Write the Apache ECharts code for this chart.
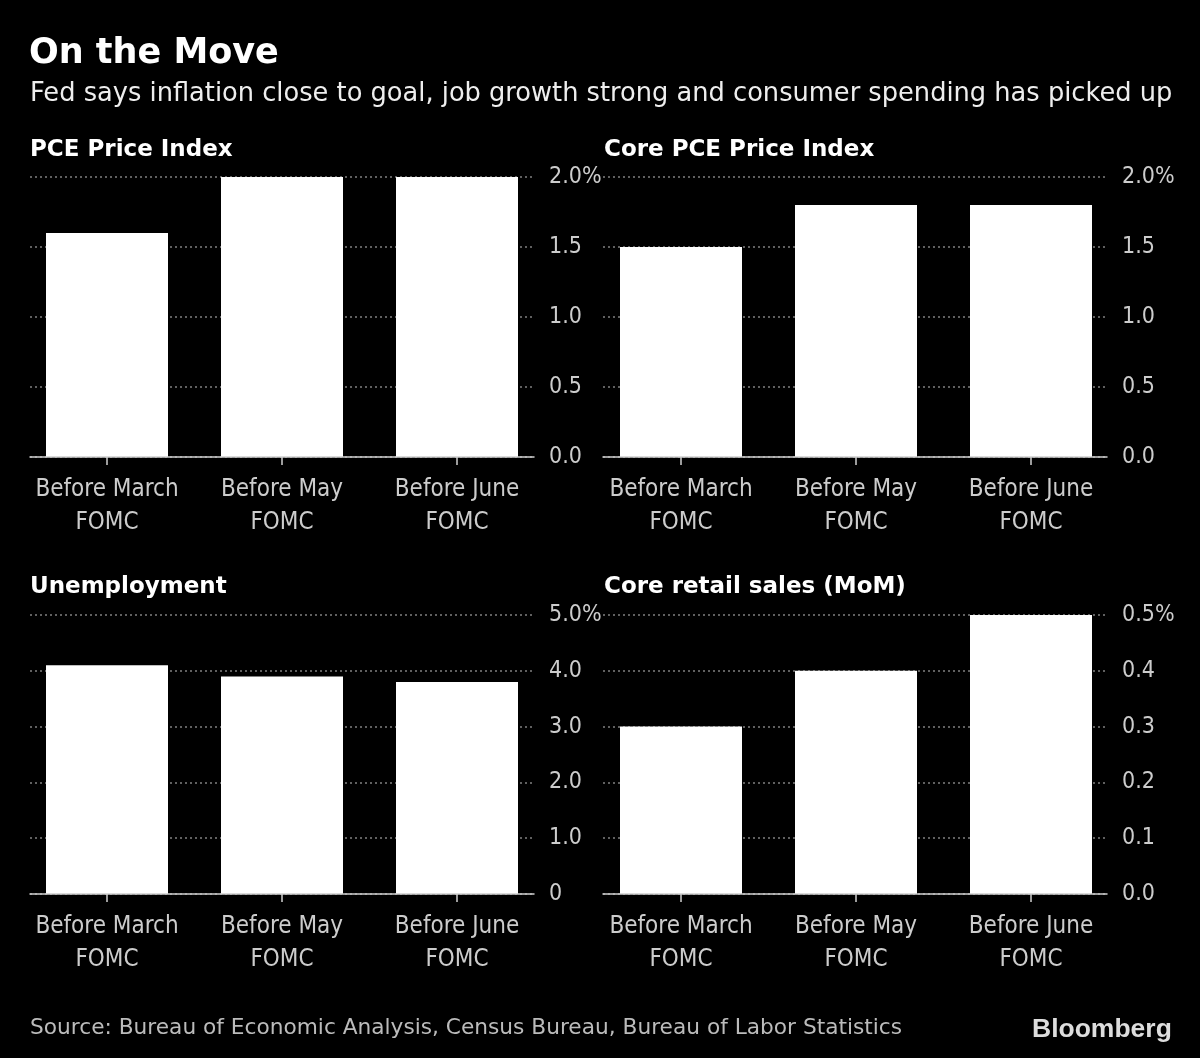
<!DOCTYPE html>
<html>
<head>
<meta charset="utf-8">
<script src="https://cdn.jsdelivr.net/npm/echarts@6/dist/echarts.min.js"></script>
<style>
html,body{margin:0;padding:0;background:#000;}
#chart{width:1200px;height:1058px;}
</style>
</head>
<body>
<div id="chart"></div>
<script>
// ---- data ----
const categories = ['Before March\nFOMC', 'Before May\nFOMC', 'Before June\nFOMC'];

const pceValues = [1.6, 2.0, 2.0];
const corePceValues = [1.5, 1.8, 1.8];
const unemploymentValues = [4.1, 3.9, 3.8];
const retailValues = [0.3, 0.4, 0.5];

const pceTickLabels = ['0.0', '0.5', '1.0', '1.5', '2.0%'];
const corePceTickLabels = ['0.0', '0.5', '1.0', '1.5', '2.0%'];
const unemploymentTickLabels = ['0', '1.0', '2.0', '3.0', '4.0', '5.0%'];
const retailTickLabels = ['0.0', '0.1', '0.2', '0.3', '0.4', '0.5%'];

const panelTitles = ['PCE Price Index', 'Core PCE Price Index', 'Unemployment', 'Core retail sales (MoM)'];
const titleText = 'On the Move';
const subtitleText = 'Fed says inflation close to goal, job growth strong and consumer spending has picked up';
const sourceText = 'Source: Bureau of Economic Analysis, Census Bureau, Bureau of Labor Statistics';

// ---- layout ----
const FONT = "'DejaVu Sans Condensed', 'DejaVu Sans', sans-serif";
const WIDE = "'DejaVu Sans', sans-serif";
const BOLD = "'DejaVu Sans', sans-serif";

const panels = [
  {values: pceValues, labels: pceTickLabels, max: 2.0, interval: 0.5, left: 30, barLeft: 19.5, top: 177, bottom: 457},
  {values: corePceValues, labels: corePceTickLabels, max: 2.0, interval: 0.5, left: 603, barLeft: 593.5, top: 177, bottom: 457},
  {values: unemploymentValues, labels: unemploymentTickLabels, max: 5.0, interval: 1.0, left: 30, barLeft: 19.5, top: 615, bottom: 894},
  {values: retailValues, labels: retailTickLabels, max: 0.5, interval: 0.1, left: 603, barLeft: 593.5, top: 615, bottom: 894}
];

const grids = [], xAxes = [], yAxes = [], series = [];
panels.forEach((p, i) => {
  const h = p.bottom - p.top;
  grids.push({left: p.left, top: p.top, width: 504, height: h, containLabel: false});
  grids.push({left: p.barLeft, top: p.top, width: 525, height: h, containLabel: false});
  const gv = 2 * i, gb = 2 * i + 1;
  xAxes.push({
    type: 'category', gridIndex: gv, data: categories,
    axisLine: {show: true, lineStyle: {color: '#cfcfcf', width: 1.5}},
    axisTick: {show: false}, axisLabel: {show: false}, splitLine: {show: false}, z: 3
  });
  xAxes.push({
    type: 'category', gridIndex: gb, data: categories,
    axisLine: {show: false},
    axisTick: {show: true, alignWithLabel: true, length: 8, lineStyle: {color: '#cfcfcf', width: 1.5}},
    axisLabel: {show: true, color: '#cccccc', fontFamily: FONT, fontSize: 24, lineHeight: 33, margin: 16, interval: 0}
  });
  yAxes.push({
    type: 'value', gridIndex: gv, position: 'right', min: 0, max: p.max, interval: p.interval,
    axisLine: {show: false}, axisTick: {show: false},
    splitLine: {show: true, lineStyle: {color: '#808080', type: [2, 3], width: 1.5}},
    axisLabel: {show: true, color: '#cccccc', fontFamily: FONT, fontSize: 23, margin: 15,
      formatter: (v, idx) => p.labels[idx]}
  });
  yAxes.push({
    type: 'value', gridIndex: gb, min: 0, max: p.max, interval: p.interval,
    show: false, splitLine: {show: false}
  });
  series.push({
    type: 'bar', xAxisIndex: 2 * i + 1, yAxisIndex: 2 * i + 1,
    data: p.values, barWidth: 122,
    itemStyle: {color: '#ffffff'}, z: 2, animation: false
  });
});

const titles = [
  {text: titleText, left: 29, top: 36, padding: 0, textStyle: {color: '#ffffff', fontFamily: BOLD, fontWeight: 'bold', fontSize: 35}},
  {text: subtitleText, left: 30, top: 81, padding: 0, textStyle: {color: '#eeeeee', fontFamily: WIDE, fontWeight: 'normal', fontSize: 25.7}},
  {text: panelTitles[0], left: 30, top: 139, padding: 0, textStyle: {color: '#ffffff', fontFamily: BOLD, fontWeight: 'bold', fontSize: 23}},
  {text: panelTitles[1], left: 604, top: 139, padding: 0, textStyle: {color: '#ffffff', fontFamily: BOLD, fontWeight: 'bold', fontSize: 23}},
  {text: panelTitles[2], left: 30, top: 576, padding: 0, textStyle: {color: '#ffffff', fontFamily: BOLD, fontWeight: 'bold', fontSize: 23}},
  {text: panelTitles[3], left: 604, top: 576, padding: 0, textStyle: {color: '#ffffff', fontFamily: BOLD, fontWeight: 'bold', fontSize: 23}},
  {text: sourceText, left: 30, top: 1017, padding: 0, textStyle: {color: '#bbbbbb', fontFamily: WIDE, fontWeight: 'normal', fontSize: 21.7}},
  {text: 'Bloomberg', left: 1032, top: 1016, padding: 0, textStyle: {color: '#dddddd', fontFamily: "'Liberation Sans', Arial, sans-serif", fontWeight: 'bold', fontSize: 26.5}}
];

const chart = echarts.init(document.getElementById('chart'), null, {renderer: 'canvas'});
chart.setOption({
  backgroundColor: '#000000',
  animation: false,
  title: titles,
  grid: grids,
  xAxis: xAxes,
  yAxis: yAxes,
  series: series
});
</script>
</body>
</html>
